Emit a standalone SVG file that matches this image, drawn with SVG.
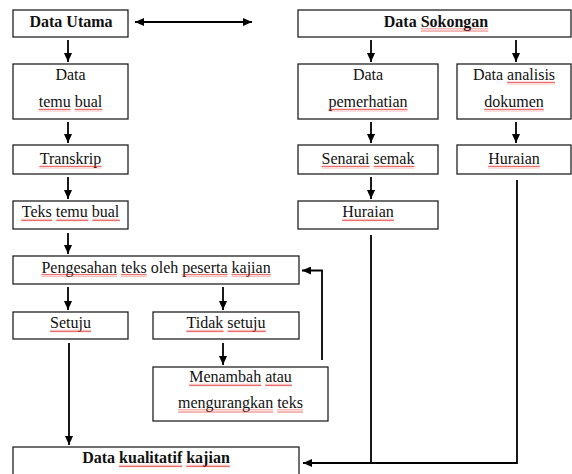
<svg xmlns="http://www.w3.org/2000/svg" width="572" height="474" viewBox="0 0 572 474">
<style>
.box{fill:#fff;stroke:#222;stroke-width:1.3}
.t{font-family:"Liberation Serif","Times New Roman",serif;font-size:16px;fill:#111;text-anchor:middle}
.b{font-weight:bold}
.c{fill:none;stroke:#000;stroke-width:1.8}
.sq{fill:url(#wave)}
</style>
<defs>
<marker id="ah" markerUnits="userSpaceOnUse" markerWidth="9" markerHeight="8" refX="9" refY="4" orient="auto-start-reverse">
<path d="M0,0 L9,4 L0,8 Z" fill="#000"/>
</marker>
<pattern id="wave" width="2" height="3" patternUnits="userSpaceOnUse">
<path d="M0,2.5 L1,0.5 L2,2.5" fill="none" stroke="#e0302a" stroke-width="0.7"/>
</pattern>
</defs>
<rect width="572" height="474" fill="#fff"/>

<g id="connectors">
<line class="c" x1="135" y1="22" x2="252" y2="22" marker-start="url(#ah)" marker-end="url(#ah)"/>
<line class="c" x1="68" y1="40" x2="68" y2="62" marker-end="url(#ah)"/>
<line class="c" x1="68" y1="122" x2="68" y2="143" marker-end="url(#ah)"/>
<line class="c" x1="68" y1="177" x2="68" y2="199" marker-end="url(#ah)"/>
<line class="c" x1="68" y1="233" x2="68" y2="254" marker-end="url(#ah)"/>
<line class="c" x1="371" y1="40" x2="371" y2="62" marker-end="url(#ah)"/>
<line class="c" x1="371" y1="122" x2="371" y2="143" marker-end="url(#ah)"/>
<line class="c" x1="371" y1="177" x2="371" y2="199" marker-end="url(#ah)"/>
<line class="c" x1="516" y1="40" x2="516" y2="62" marker-end="url(#ah)"/>
<line class="c" x1="516" y1="122" x2="516" y2="143" marker-end="url(#ah)"/>
<line class="c" x1="68" y1="287" x2="68" y2="310" marker-end="url(#ah)"/>
<line class="c" x1="223" y1="287" x2="223" y2="310" marker-end="url(#ah)"/>
<line class="c" x1="223" y1="343" x2="223" y2="365" marker-end="url(#ah)"/>
<line class="c" x1="69" y1="343" x2="69" y2="445" marker-end="url(#ah)"/>
<polyline class="c" points="322,360 322,270.5 302,270.5" marker-end="url(#ah)"/>
<line class="c" x1="371" y1="235" x2="371" y2="463"/>
<polyline class="c" points="517,180 517,463 303,463" marker-end="url(#ah)"/>
</g>

<g id="data-utama">
<rect class="box" x="13" y="10" width="115" height="27"/>
<text class="t b" x="71" y="27">Data Utama</text>
</g>
<g id="data-sokongan">
<rect class="box" x="298" y="10" width="273" height="27"/>
<text class="t b" x="436" y="27">Data Sokongan</text>
<rect class="sq" x="420.7" y="28.5" width="67.6" height="3"/>
</g>
<g id="data-temu-bual">
<rect class="box" x="13" y="64" width="115" height="55"/>
<text class="t" x="70.5" y="80">Data</text>
<text class="t" x="70.5" y="107">temu bual</text>
<rect class="sq" x="38.7" y="108.5" width="32" height="3"/>
<rect class="sq" x="74.7" y="108.5" width="27.6" height="3"/>
</g>
<g id="data-pemerhatian">
<rect class="box" x="298" y="64" width="140" height="55"/>
<text class="t" x="368" y="80">Data</text>
<text class="t" x="368" y="107">pemerhatian</text>
<rect class="sq" x="328.5" y="108.5" width="79" height="3"/>
</g>
<g id="data-analisis-dokumen">
<rect class="box" x="457" y="64" width="114" height="55"/>
<text class="t" x="514" y="80">Data analisis</text>
<text class="t" x="514" y="107">dokumen</text>
<rect class="sq" x="507.1" y="81.5" width="48" height="3"/>
<rect class="sq" x="484.2" y="108.5" width="59.6" height="3"/>
</g>
<g id="transkrip">
<rect class="box" x="13" y="145" width="115" height="29"/>
<text class="t" x="70.5" y="164">Transkrip</text>
<rect class="sq" x="39.4" y="165.5" width="62.2" height="3"/>
</g>
<g id="senarai-semak">
<rect class="box" x="298" y="145" width="140" height="29"/>
<text class="t" x="368" y="164">Senarai semak</text>
<rect class="sq" x="321.6" y="165.5" width="48" height="3"/>
<rect class="sq" x="373.6" y="165.5" width="40.9" height="3"/>
</g>
<g id="huraian-dokumen">
<rect class="box" x="457" y="145" width="114" height="29"/>
<text class="t" x="514" y="164">Huraian</text>
<rect class="sq" x="488.2" y="165.5" width="51.6" height="3"/>
</g>
<g id="teks-temu-bual">
<rect class="box" x="13" y="201" width="115" height="28"/>
<text class="t" x="70.5" y="217">Teks temu bual</text>
<rect class="sq" x="21.2" y="218.5" width="31.1" height="3"/>
<rect class="sq" x="56.3" y="218.5" width="32" height="3"/>
<rect class="sq" x="92.3" y="218.5" width="27.5" height="3"/>
</g>
<g id="huraian-pemerhatian">
<rect class="box" x="298" y="201" width="140" height="28"/>
<text class="t" x="368" y="217">Huraian</text>
<rect class="sq" x="342.2" y="218.5" width="51.6" height="3"/>
</g>
<g id="pengesahan">
<rect class="box" x="13" y="256" width="286" height="28"/>
<text class="t" x="156" y="272.5">Pengesahan teks oleh peserta kajian</text>
<rect class="sq" x="41.4" y="274" width="75.5" height="3"/>
<rect class="sq" x="120.9" y="274" width="25.8" height="3"/>
<rect class="sq" x="182.3" y="274" width="45.3" height="3"/>
<rect class="sq" x="231.6" y="274" width="39.1" height="3"/>
</g>
<g id="setuju">
<rect class="box" x="13" y="312" width="115" height="27"/>
<text class="t" x="70.5" y="328">Setuju</text>
<rect class="sq" x="50.1" y="329.5" width="40.9" height="3"/>
</g>
<g id="tidak-setuju">
<rect class="box" x="153" y="312" width="146" height="27"/>
<text class="t" x="226" y="328">Tidak setuju</text>
<rect class="sq" x="186.3" y="329.5" width="37.3" height="3"/>
<rect class="sq" x="227.6" y="329.5" width="38.2" height="3"/>
</g>
<g id="menambah">
<rect class="box" x="153" y="367" width="175" height="54"/>
<text class="t" x="240.5" y="382">Menambah atau</text>
<text class="t" x="240.5" y="408">mengurangkan teks</text>
<rect class="sq" x="189.2" y="383.5" width="72" height="3"/>
<rect class="sq" x="265.2" y="383.5" width="26.7" height="3"/>
<rect class="sq" x="178.1" y="409.5" width="95.1" height="3"/>
<rect class="sq" x="277.2" y="409.5" width="25.8" height="3"/>
</g>
<g id="data-kualitatif">
<rect class="box" x="13" y="447" width="286" height="32"/>
<text class="t b" x="156" y="463">Data kualitatif kajian</text>
<rect class="sq" x="119.1" y="464.5" width="63.1" height="3"/>
<rect class="sq" x="186.2" y="464.5" width="43.6" height="3"/>
</g>
</svg>
